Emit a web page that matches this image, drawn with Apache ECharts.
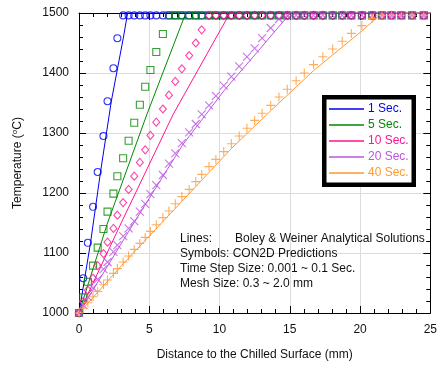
<!DOCTYPE html>
<html><head><meta charset="utf-8">
<script src="https://cdn.jsdelivr.net/npm/echarts@6/dist/echarts.min.js"></script>
<style>html,body{margin:0;padding:0;background:#fff}#c{width:440px;height:366px}</style>
</head><body><div id="c"></div>
<script>
// Mesh node positions (mm) where CON2D predictions are plotted
const xNodes = [0, 0.3, 0.63, 1.0, 1.33, 1.74, 2.03, 2.45, 2.73, 3.14, 3.53, 3.93, 4.33, 4.71, 5.08, 5.50, 5.97, 6.40, 6.85, 7.32, 7.84, 8.31, 8.73, 9.25, 9.74, 10.3, 10.84, 11.4, 11.95, 12.5, 13.03, 13.64, 14.23, 14.82, 15.45, 16.03, 16.69, 17.35, 18.05, 18.73, 19.38, 20.13, 20.86, 21.56, 22.24, 22.94, 23.7, 24.53];

// CON2D predictions (symbols), temperature at each node
const sym1T = [1000, 1058, 1117, 1177, 1235, 1295, 1353, 1408, 1458, 1496, 1496, 1496, 1496, 1496, 1496, 1496, 1496, 1496, 1496, 1496, 1496, 1496, 1496, 1496, 1496, 1496, 1496, 1496, 1496, 1496, 1496, 1496, 1496, 1496, 1496, 1496, 1496, 1496, 1496, 1496, 1496, 1496, 1496, 1496, 1496, 1496, 1496, 1496];
const sym5T = [1000, 1026, 1052, 1079, 1109, 1140, 1169, 1199, 1228, 1258, 1287, 1317, 1347, 1377, 1405, 1435, 1465, 1496, 1496, 1496, 1496, 1496, 1496, 1496, 1496, 1496, 1496, 1496, 1496, 1496, 1496, 1496, 1496, 1496, 1496, 1496, 1496, 1496, 1496, 1496, 1496, 1496, 1496, 1496, 1496, 1496, 1496, 1496];
const sym10T = [1000, 1019, 1038, 1058, 1079, 1099, 1118, 1141, 1163, 1184, 1206, 1228, 1251, 1272, 1296, 1318, 1340, 1363, 1386, 1407, 1429, 1450, 1472, 1496, 1496, 1496, 1496, 1496, 1496, 1496, 1496, 1496, 1496, 1496, 1496, 1496, 1496, 1496, 1496, 1496, 1496, 1496, 1496, 1496, 1496, 1496, 1496, 1496];
const sym20T = [1000, 1013, 1027, 1042, 1056, 1073, 1085, 1102, 1113, 1128, 1141, 1153, 1169, 1182, 1198, 1213, 1230, 1249, 1266, 1283, 1301, 1315, 1331, 1346, 1362, 1379, 1394, 1411, 1427, 1441, 1458, 1475, 1490, 1496, 1496, 1496, 1496, 1496, 1496, 1496, 1496, 1496, 1496, 1496, 1496, 1496, 1496, 1496];
const sym40T = [1000, 1008, 1017, 1027, 1036, 1047, 1055, 1066, 1074, 1085, 1095, 1106, 1116, 1126, 1136, 1147, 1159, 1170, 1182, 1194, 1206, 1219, 1231, 1244, 1256, 1269, 1282, 1295, 1308, 1321, 1333, 1346, 1360, 1373, 1387, 1400, 1414, 1427, 1440, 1453, 1466, 1479, 1491, 1496, 1496, 1496, 1496, 1496];

// Boley & Weiner analytical solutions (lines)
const line1X = [0, 0.82, 1.53, 2.3, 3.15, 3.46, 25];
const line1T = [1000, 1117, 1235, 1353, 1458, 1500, 1500];
const line5X = [0, 2.0, 4.83, 7.6, 25];
const line5T = [1000, 1148, 1331, 1500, 1500];
const line10X = [0, 3.0, 6.7, 9.9, 10.75, 25];
const line10T = [1000, 1150, 1331, 1465, 1500, 1500];
const line20X = [0, 3.9, 7.37, 10.3, 12.8, 15.05, 25];
const line20T = [1000, 1150, 1280, 1370, 1438, 1500, 1500];
const line40X = [0, 3.14, 7.32, 10.84, 13.64, 16.69, 20.13, 21.56, 25];
const line40T = [1000, 1082, 1186, 1274, 1337, 1404, 1470, 1500, 1500];

const seriesNames = ['1 Sec.', '5 Sec.', '10 Sec.', '20 Sec.', '40 Sec.'];
const colors = ['#0000ee', '#008a00', '#ff1493', '#bb55e0', '#ff9933'];
const xTickLabels = ['0', '5', '10', '15', '20', '25'];
const yTickLabels = ['1000', '1100', '1200', '1300', '1400', '1500'];

const FONT = 'Liberation Sans, Arial, sans-serif';
const symTs = [sym1T, sym5T, sym10T, sym20T, sym40T];
const lineXs = [line1X, line5X, line10X, line20X, line40X];
const lineTs = [line1T, line5T, line10T, line20T, line40T];
const symbols = ['circle', 'rect', 'diamond', 'path://M0,0L10,10M0,10L10,0', 'path://M0,5L10,5M5,0L5,10'];
const symSizes = [7, 7, [7, 8], 8, 9];

const pair = (xs, ys) => xs.map((x, i) => [x, ys[i]]);

const series = [];
seriesNames.forEach((n, k) => {
  series.push({
    name: n, type: 'line', data: pair(lineXs[k], lineTs[k]),
    symbol: 'none', lineStyle: { color: colors[k], width: 1 }, itemStyle: { color: colors[k] },
    z: 3, animation: false
  });
});
seriesNames.forEach((n, k) => {
  series.push({
    name: 'CON2D ' + n, type: 'scatter', data: pair(xNodes, symTs[k]),
    symbol: symbols[k], symbolSize: symSizes[k],
    itemStyle: { color: 'rgba(0,0,0,0)', borderColor: colors[k], borderWidth: 1.1 },
    z: 4, animation: false, clip: false
  });
});

const xMin = +xTickLabels[0], xMax = +xTickLabels[xTickLabels.length - 1];
const yMin = +yTickLabels[0], yMax = +yTickLabels[yTickLabels.length - 1];
const xInt = xTickLabels[1] - xTickLabels[0], yInt = yTickLabels[1] - yTickLabels[0];

const axisCommon = {
  axisLine: { show: true, onZero: false, lineStyle: { color: '#000', width: 1 } },
  axisTick: { show: true, inside: true, length: 7, lineStyle: { color: '#000' } },
  minorTick: { show: true, splitNumber: 5, length: 4, lineStyle: { color: '#000' } },
};

const chart = echarts.init(document.getElementById('c'), null, { renderer: 'canvas' });
chart.setOption({
  animation: false,
  backgroundColor: '#fff',
  grid: { left: 79, right: 5, top: 13, bottom: 52, containLabel: false },
  xAxis: [
    Object.assign({
      type: 'value', min: xMin, max: xMax, interval: xInt, position: 'bottom',
      name: 'Distance to the Chilled Surface (mm)', nameLocation: 'middle', nameGap: 36,
      nameTextStyle: { fontFamily: FONT, fontSize: 12, color: '#111' },
      axisLabel: { fontFamily: FONT, fontSize: 12, color: '#111', margin: 11,
        formatter: v => xTickLabels[Math.round((v - xMin) / xInt)] },
      splitLine: { show: true, lineStyle: { color: '#dcdcdc', width: 1 } }
    }, axisCommon),
    Object.assign({
      type: 'value', min: xMin, max: xMax, interval: xInt, position: 'top',
      axisLabel: { show: false }, splitLine: { show: false }
    }, axisCommon)
  ],
  yAxis: [
    Object.assign({
      type: 'value', min: yMin, max: yMax, interval: yInt, position: 'left',
      name: '{a|Temperature (}{s|o}{a|C)}', nameLocation: 'middle', nameGap: 54,
      nameTextStyle: {
        fontFamily: FONT, fontSize: 12, color: '#111',
        rich: {
          a: { fontFamily: FONT, fontSize: 12, color: '#111' },
          s: { fontFamily: FONT, fontSize: 8, color: '#111', verticalAlign: 'top', padding: [0, 0, 6, 0] }
        }
      },
      axisLabel: { fontFamily: FONT, fontSize: 12, color: '#111', margin: 10,
        formatter: v => yTickLabels[Math.round((v - yMin) / yInt)] },
      splitLine: { show: true, lineStyle: { color: '#dcdcdc', width: 1 } }
    }, axisCommon),
    Object.assign({
      type: 'value', min: yMin, max: yMax, interval: yInt, position: 'right',
      axisLabel: { show: false }, splitLine: { show: false }
    }, axisCommon)
  ],
  legend: {
    data: seriesNames.map((n, k) => ({ name: n, icon: 'rect', textStyle: { color: colors[k] } })),
    orient: 'vertical', left: 329, top: 102, itemWidth: 35, itemHeight: 1.5, itemGap: 2,
    padding: 0, selectedMode: false, z: 20,
    textStyle: { fontFamily: FONT, fontSize: 12, lineHeight: 14, padding: [0, 0, 0, -1] }
  },
  graphic: [
    { type: 'rect', z: 15, shape: { x: 324.25, y: 97.25, width: 89.5, height: 87.5 },
      style: { fill: '#fff', stroke: '#000', lineWidth: 4.5 } },
    { type: 'text', z: 15, left: 180, top: 233, style: { text: 'Lines:', font: '12px ' + FONT, fill: '#111' } },
    { type: 'text', z: 15, left: 235, top: 233, style: { text: 'Boley & Weiner Analytical Solutions', font: '12px ' + FONT, fill: '#111' } },
    { type: 'text', z: 15, left: 180, top: 248, style: { text: 'Symbols: CON2D Predictions', font: '12px ' + FONT, fill: '#111' } },
    { type: 'text', z: 15, left: 180, top: 263, style: { text: 'Time Step Size: 0.001 ~ 0.1 Sec.', font: '12px ' + FONT, fill: '#111' } },
    { type: 'text', z: 15, left: 180, top: 278, style: { text: 'Mesh Size: 0.3 ~ 2.0 mm', font: '12px ' + FONT, fill: '#111' } }
  ],
  series: series
});
</script>
</body></html>
